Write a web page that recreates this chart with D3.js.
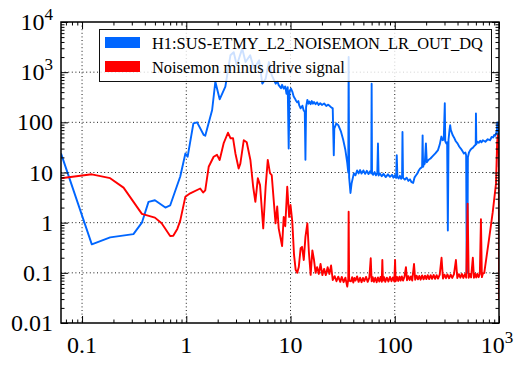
<html><head><meta charset="utf-8">
<script src="https://cdn.jsdelivr.net/npm/d3@7"></script>
<style>body{margin:0;background:#fff}svg{display:block}</style>
</head><body>
<svg id="c" width="525" height="368">
 <g id="layer"></g>
 <g id="legendbg"></g>
 <g id="labels" font-family="Liberation Serif, Tinos, Times New Roman, Noto Serif, DejaVu Serif, serif" fill="#000">
  <text class="xl" font-size="24" text-anchor="middle">0.1</text>
  <text class="xl" font-size="24" text-anchor="middle">1</text>
  <text class="xl" font-size="24" text-anchor="middle">10</text>
  <text class="xl" font-size="24" text-anchor="middle">100</text>
  <text class="xl" font-size="24" text-anchor="middle">10<tspan dy="-10" font-size="17">3</tspan></text>
  <text class="yl" font-size="24" text-anchor="end">0.01</text>
  <text class="yl" font-size="24" text-anchor="end">0.1</text>
  <text class="yl" font-size="24" text-anchor="end">1</text>
  <text class="yl" font-size="24" text-anchor="end">10</text>
  <text class="yl" font-size="24" text-anchor="end">100</text>
  <text class="yl" font-size="24" text-anchor="end">10<tspan dy="-10" font-size="17">3</tspan></text>
  <text class="yl" font-size="24" text-anchor="end">10<tspan dy="-10" font-size="17">4</tspan></text>
  <text class="lt" font-size="16">H1:SUS-ETMY_L2_NOISEMON_LR_OUT_DQ</text>
  <text class="lt" font-size="16">Noisemon minus drive signal</text>
 </g>
</svg>
<script>
// ---- data (frequency Hz, amplitude) ----
const seriesNames = ["H1:SUS-ETMY_L2_NOISEMON_LR_OUT_DQ", "Noisemon minus drive signal"];
const xTickLabels = [[0.1,"0.1"],[1,"1"],[10,"10"],[100,"100"],[1000,"10","3"]];
const yTickLabels = [[0.01,"0.01"],[0.1,"0.1"],[1,"1"],[10,"10"],[100,"100"],[1000,"10","3"],[10000,"10","4"]];

const blueData = [
 [0.0628,24],[0.124,0.37],[0.186,0.51],[0.311,0.59],[0.375,1.0],[0.434,2.6],[0.50,2.8],[0.63,2.0],[0.70,2.2],
 [0.875,8.3],[0.98,24],[1.03,20.6],[1.17,95],[1.27,100],[1.47,56],[1.52,54],[1.77,176],[1.9,646],[2.09,288],
 [2.37,513],[2.65,2170],[2.85,2500],[3.05,1370],[3.44,2950],[3.7,1590],[4.1,2170],[4.46,1170],[5.0,1720],
 [5.36,590],[5.77,740],[6.2,1590],[6.6,870],[7.2,590],[7.5,650],[7.7,550],[8.1,480],[8.3,560],[8.6,470],
 [8.9,520],[9.15,370],[9.4,500],[9.6,30],[9.8,420],[10.1,470],[10.4,410],[10.7,330],[11,300],[11.3,270],
 [11.6,250],[11.9,265],[12.1,220],[12.5,190],[13.0,215],[13.4,170],[13.7,165],[13.9,18],[14.1,200],
 [14.5,280],[14.9,235],[15.2,260],[15.6,230],[16,265],[16.4,235],[16.8,255],[17.4,230],[18,250],[18.6,222],
 [19.3,240],[20,222],[21,238],[22,212],[23,225],[24.5,200],[25.4,190],[26,22],[26.3,75],[27.5,95],
 [28.7,88],[30.5,65],[32,45],[33.6,28],[35,15.5],[35.8,10],[36.1,2000],[36.5,8],[37.6,3.9],[38.5,6],
 [40.5,9.6],[42,8.8],[43.5,11],[45,9.6],[46.5,11.2],[48,9.5],[50,11],[52,9.4],[54,10.8],[56,9.3],[58,10.6],
 [59.5,9.6],[60,590],[60.5,10],[62,9.0],[64,10.2],[66,8.8],[68,9.8],[69,38],[70,8.7],[72,9.6],[75,8.4],
 [78,9.4],[82,8.1],[86,9.2],[90,8.2],[94,9.0],[97,7.9],[100,8.8],[103,7.8],[104.5,22],[106,8.2],[109,7.6],
 [112,8.6],[115,7.5],[117.5,8.3],[118.6,64],[120,7.8],[125,7.2],[130,7.9],[135,6.8],[140,7.3],[145,6.4],
 [150,6.2],[155,8],[160,8.8],[165,9.6],[170,11],[175,12],[180,12.5],[183,13],[185,55],[187,13],[190,14.5],
 [194,15],[199,38],[203,16],[210,17.8],[220,19],[230,21],[245,24],[260,28],[270,36],[280,52],[288,44],
 [295,45],[302,240],[305,42],[312,38],[318,40],[323,0.7],[328,45],[335,70],[340,88],[345,70],[350,65],
 [360,55],[370,50],[385,42],[400,38],[415,33],[430,30],[445,27],[460,24],[475,25],[484,22],[490,0.1],
 [497,0.1],[503,20],[515,25],[530,28],[545,30],[560,31],[575,33],[590,35],[598,36],[601,150],[606,37],
 [620,41],[640,39],[660,43],[680,40],[700,44],[740,41],[780,46],[820,44],[850,51],[880,50],[900,56],
 [920,54],[940,62],[955,70],[962,100],[975,80],[985,100],[993,13],[997,60],[1000,100]
];

const redData = [
 [0.0628,7.7],[0.124,9.2],[0.186,7.7],[0.25,5.0],[0.375,1.5],[0.50,1.26],[0.58,0.97],[0.70,0.54],[0.75,0.55],
 [0.82,0.75],[0.875,1.1],[0.98,3.3],[1.09,3.85],[1.36,4.8],[1.45,4.0],[1.52,4.4],[1.64,13],[1.83,20.6],
 [1.97,22.5],[2.09,17.8],[2.28,38],[2.51,62],[2.66,48],[2.81,48],[2.96,24],[3.18,12],[3.3,15],[3.56,44],
 [3.8,40],[4.12,17.8],[4.38,5.2],[4.6,2.6],[4.86,7.7],[5.1,5.6],[5.47,0.77],[5.77,5.2],[6.05,17.8],
 [6.35,9.7],[6.6,8.9],[7.18,0.97],[7.45,2.1],[7.7,0.77],[8.3,0.34],[8.6,1.3],[8.9,0.85],[9.3,5.2],
 [9.7,1.3],[10,2.25],[10.4,1.05],[10.8,0.23],[11.2,0.115],[11.6,0.1],[12,0.13],[12.5,0.31],[12.9,0.33],
 [13.4,0.18],[13.9,0.52],[14.5,0.97],[15,0.26],[15.6,0.091],[16.2,0.28],[16.8,0.18],[17.4,0.1],[18,0.13],
 [18.7,0.095],[19.4,0.15],[20.2,0.09],[21,0.12],[21.8,0.09],[22.7,0.13],[23.6,0.095],[24.5,0.14],
 [25.4,0.072],[26.5,0.086],[27.6,0.068],[28.7,0.084],[30,0.066],[31,0.083],[32.3,0.065],[33.6,0.08],
 [35,0.053],[35.8,0.075],[36.1,1.65],[36.5,0.07],
 [38,0.068],[39,0.082],[40,0.064],[41,0.079],[42,0.07],[43.5,0.085],[45,0.066],[46.5,0.08],[48,0.065],
 [49.5,0.079],[51,0.068],[53,0.083],[55,0.066],[57,0.08],[58.8,0.195],[60,0.068],[61.5,0.082],[63,0.066],
 [65,0.08],[67,0.065],[69,0.081],[71,0.067],[73,0.083],[75,0.066],[76,0.18],[77,0.07],[79,0.082],
 [81,0.066],[84,0.08],[87,0.067],[90,0.083],[93,0.068],[96,0.081],[99,0.067],[100.7,0.18],[102,0.068],
 [105,0.083],[108,0.069],[111,0.084],[114,0.07],[117,0.085],[120,0.07],[124,0.084],[128,0.13],[131,0.071],
 [135,0.086],[139,0.072],[143,0.085],[147,0.07],[153,0.15],[157,0.073],[162,0.088],[167,0.074],[172,0.087],
 [177,0.073],[183,0.089],[189,0.074],[195,0.088],[201,0.075],[207,0.09],[214,0.075],[221,0.09],[228,0.076],
 [236,0.091],[244,0.076],[252,0.09],[260,0.077],[270,0.092],[281,0.2],[290,0.077],[300,0.092],[310,0.078],
 [320,0.093],[332,0.078],[344,0.092],[356,0.079],[370,0.094],[386,0.18],[398,0.079],[412,0.094],[426,0.08],
 [440,0.095],[455,0.079],[470,0.094],[485,0.08],[500,2.4],[512,0.08],[525,0.095],[540,0.081],[561,0.2],
 [575,0.08],[590,0.095],[605,0.081],[620,0.096],[638,0.082],[655,0.095],[671,1.17],[685,0.082],[700,0.096],
 [722,0.1],[800,0.45],[870,1.6],[936,6],[960,40],[975,55],[990,45],[997,20],[1000,0.03]
];

// ---- layout ----
const L = 61, R = 499, T = 22, B = 323;
const svg = d3.select("#c");
const layer = d3.select("#layer");
const x = d3.scaleLog().domain([0.0628, 1000]).range([L, R]);
const y = d3.scaleLog().domain([0.01, 10000]).range([B, T]);

svg.insert("defs", "#layer").append("clipPath").attr("id","clip")
  .append("rect").attr("x",L).attr("y",T).attr("width",R-L).attr("height",B-T);

// grid
const xMajor = [0.1,1,10,100];
const yMajor = [0.1,1,10,100,1000];
const grid = layer.append("g").attr("stroke","#000").attr("stroke-width",0.9).attr("stroke-dasharray","1,2.6");
grid.selectAll("line.gx").data(xMajor).join("line").attr("class","gx").attr("x1",d=>x(d)).attr("x2",d=>x(d)).attr("y1",T).attr("y2",B);
grid.selectAll("line.gy").data(yMajor).join("line").attr("class","gy").attr("y1",d=>y(d)).attr("y2",d=>y(d)).attr("x1",L).attr("x2",R);

// lines
const line = d3.line().x(d=>x(d[0])).y(d=>y(d[1]));
const plot = layer.append("g").attr("clip-path","url(#clip)");
plot.append("path").datum(blueData).attr("d",line).attr("fill","none")
  .attr("stroke","#0066ff").attr("stroke-width",1.9).attr("stroke-linejoin","round");
plot.append("path").datum(redData).attr("d",line).attr("fill","none")
  .attr("stroke","#ff0000").attr("stroke-width",1.9).attr("stroke-linejoin","round");

// ticks
function minorTicks(lo, hi){
  const out=[];
  for(let e=-3;e<=4;e++) for(let m=2;m<=9;m++){const v=m*Math.pow(10,e); if(v>lo&&v<hi) out.push(v);}
  return out;
}
const xAllMajor = [0.1,1,10,100,1000];
const yAllMajor = [0.01,0.1,1,10,100,1000,10000];
const xMin = minorTicks(0.0628,1000), yMin = minorTicks(0.01,10000);
function styleAxis(g){ g.select(".domain").remove(); g.selectAll("line").attr("stroke","#000").attr("stroke-width",1); g.selectAll("text").remove(); }
layer.append("g").attr("transform",`translate(0,${B})`).call(d3.axisBottom(x).tickValues(xAllMajor).tickSize(-7)).call(styleAxis);
layer.append("g").attr("transform",`translate(0,${B})`).call(d3.axisBottom(x).tickValues(xMin).tickSize(-3.5)).call(styleAxis);
layer.append("g").attr("transform",`translate(0,${T})`).call(d3.axisTop(x).tickValues(xAllMajor).tickSize(-7)).call(styleAxis);
layer.append("g").attr("transform",`translate(0,${T})`).call(d3.axisTop(x).tickValues(xMin).tickSize(-3.5)).call(styleAxis);
layer.append("g").attr("transform",`translate(${L},0)`).call(d3.axisLeft(y).tickValues(yAllMajor).tickSize(-7)).call(styleAxis);
layer.append("g").attr("transform",`translate(${L},0)`).call(d3.axisLeft(y).tickValues(yMin).tickSize(-3.5)).call(styleAxis);
layer.append("g").attr("transform",`translate(${R},0)`).call(d3.axisRight(y).tickValues(yAllMajor).tickSize(-7)).call(styleAxis);
layer.append("g").attr("transform",`translate(${R},0)`).call(d3.axisRight(y).tickValues(yMin).tickSize(-3.5)).call(styleAxis);

// frame
layer.append("rect").attr("x",L).attr("y",T).attr("width",R-L).attr("height",B-T)
  .attr("fill","none").attr("stroke","#000").attr("stroke-width",1.5);

// tick labels (static text elements positioned through the scales)
d3.selectAll("#labels text.xl").data(xTickLabels)
  .attr("x",d=>d[2] ? x(d[0])-2 : x(d[0])).attr("y",353);
d3.selectAll("#labels text.yl").data(yTickLabels)
  .attr("x",53).attr("y",d=>y(d[0])+8);

// legend
const lg = d3.select("#legendbg");
lg.append("rect").attr("x",99.5).attr("y",29.5).attr("width",392).attr("height",52)
  .attr("fill","#fff").attr("fill-opacity",0.8).attr("stroke","#111").attr("stroke-width",1);
const colors = ["#0066ff","#ff0000"];
const rowY = [43, 67];
seriesNames.forEach((n,i)=>{
  lg.append("rect").attr("x",105).attr("y",rowY[i]-6).attr("width",35).attr("height",11).attr("fill",colors[i]);
});
const texts = d3.selectAll("#labels text.lt").data(seriesNames)
  .attr("x",152).attr("y",(d,i)=>rowY[i]+6);
const len0 = texts.node().getComputedTextLength();
const fs = Math.min(17.5, Math.max(13, 16*331/len0));
texts.attr("font-size",fs.toFixed(2));
</script>
</body></html>
